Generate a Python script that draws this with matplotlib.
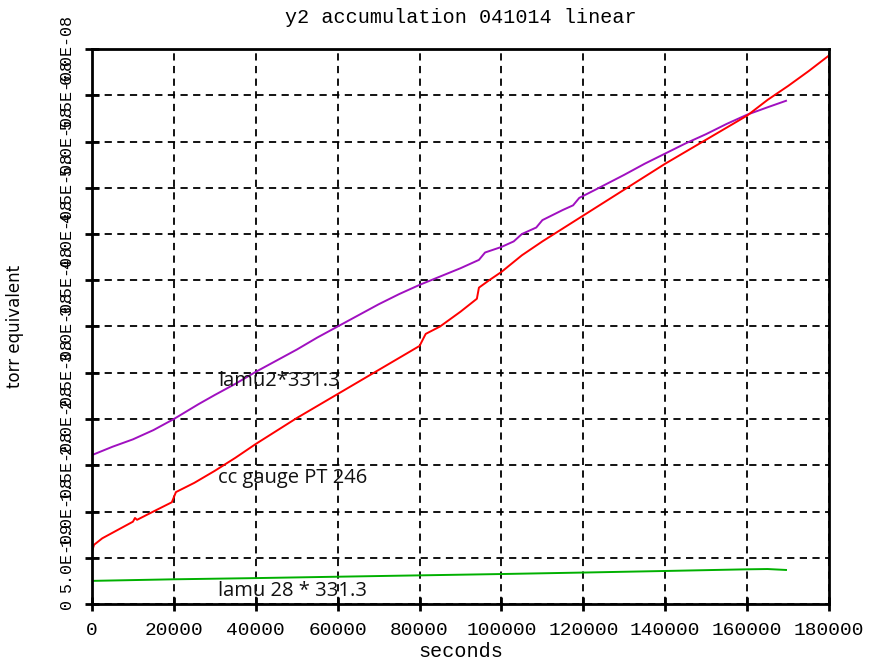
import matplotlib

matplotlib.use("Agg")
import matplotlib.pyplot as plt
from matplotlib.ticker import FixedLocator

# values (seconds, torr equivalent in units of 1e-8)
lamu2_t = [0, 5000, 10000, 15000, 20000, 26000, 30000, 35000, 40000, 45000,
           50000, 55000, 60000, 65000, 70000, 75000, 80000, 85000, 90000, 94500,
           96000, 100000, 103000, 105000, 108500, 110000, 115000, 117500, 119000,
           123000, 130000, 135000, 140000, 145000, 150000, 155000, 160000, 165000,
           169500]
lamu2_v = [1.61, 1.70, 1.78, 1.88, 2.00, 2.16, 2.26, 2.38, 2.51, 2.63,
           2.75, 2.88, 3.00, 3.12, 3.24, 3.35, 3.45, 3.54, 3.63, 3.72,
           3.80, 3.86, 3.92, 4.00, 4.07, 4.15, 4.26, 4.31, 4.39,
           4.48, 4.64, 4.76, 4.87, 4.98, 5.08, 5.19, 5.29, 5.37,
           5.44]

cc_t = [0, 500, 2500, 5000, 10000, 10500, 11000, 15000, 19500, 20500,
        25000, 30000, 35000, 40000, 45000, 50000, 55000, 60000, 65000, 70000,
        75000, 80000, 81500, 85000, 90000, 94000, 94500, 97000, 100000, 105000,
        110000, 115000, 120000, 125000, 130000, 135000, 140000, 145000, 150000,
        155000, 160000, 165000, 170000, 175000, 180000]
cc_v = [0.57, 0.64, 0.71, 0.77, 0.89, 0.93, 0.91, 1.00, 1.10, 1.21,
        1.31, 1.44, 1.58, 1.73, 1.87, 2.01, 2.14, 2.27, 2.40, 2.53,
        2.66, 2.79, 2.92, 3.00, 3.16, 3.30, 3.42, 3.50, 3.59, 3.77,
        3.92, 4.06, 4.20, 4.34, 4.48, 4.62, 4.76, 4.89, 5.02,
        5.15, 5.28, 5.45, 5.60, 5.76, 5.93]

lamu28_t = [0, 20000, 40000, 60000, 75000, 100000, 120000, 140000, 160000, 165000, 169500]
lamu28_v = [0.250, 0.267, 0.280, 0.295, 0.306, 0.324, 0.340, 0.357, 0.375, 0.378, 0.368]

yticks = [i * 5e-9 for i in range(13)]
ylabels = ["0", "5.0E-09", "1.0E-08", "1.5E-08", "2.0E-08", "2.5E-08", "3.0E-08",
           "3.5E-08", "4.0E-08", "4.5E-08", "5.0E-08", "5.5E-08", "6.0E-08"]
xticks = list(range(0, 180001, 20000))

MONO = "Liberation Mono"

fig = plt.figure(figsize=(8.69, 6.62), dpi=100)
ax = fig.add_axes([92 / 869, 1 - 604 / 662, 737 / 869, 555 / 662])

ax.plot(lamu2_t, [v * 1e-8 for v in lamu2_v], color="#a010c0", lw=1.4)
ax.plot(cc_t, [v * 1e-8 for v in cc_v], color="#ff0000", lw=1.4)
ax.plot(lamu28_t, [v * 1e-8 for v in lamu28_v], color="#00b000", lw=1.4)

ax.text(30800, 2.41e-8, "lamu2*331.3", fontsize=14.5, family="Open Sans", va="center", color="#111111")
ax.text(30800, 1.36e-8, "cc gauge PT 246", fontsize=14.5, family="Open Sans", va="center", color="#111111")
ax.text(30800, 0.14e-8, "lamu 28 * 331.3", fontsize=14.5, family="Open Sans", va="center", color="#111111")

ax.set_xlim(0, 180000)
ax.set_ylim(0, 6e-8)
ax.xaxis.set_major_locator(FixedLocator(xticks))
ax.set_xticklabels([str(v) for v in xticks], family=MONO, fontsize=14)
ax.yaxis.set_major_locator(FixedLocator(yticks))
ax.set_yticklabels(ylabels, family=MONO, fontsize=12, rotation=90, va="center")

ax.grid(True, color="black", linestyle=(0, (4, 3)), lw=1.3)
ax.set_axisbelow(True)
for s in ax.spines.values():
    s.set_linewidth(2)
ax.tick_params(direction="inout", length=10, width=2)
ax.tick_params(axis="x", pad=8)
ax.tick_params(axis="y", pad=8)

ax.set_title("y2 accumulation 041014 linear", family=MONO, fontsize=14.5, pad=19)
ax.set_xlabel("seconds", family=MONO, fontsize=14.5, labelpad=2)
ax.set_ylabel("torr equivalent", family="DejaVu Sans", fontsize=12)
ax.yaxis.set_label_coords(-0.092, 0.5)

fig.savefig("out.png", dpi=100)
